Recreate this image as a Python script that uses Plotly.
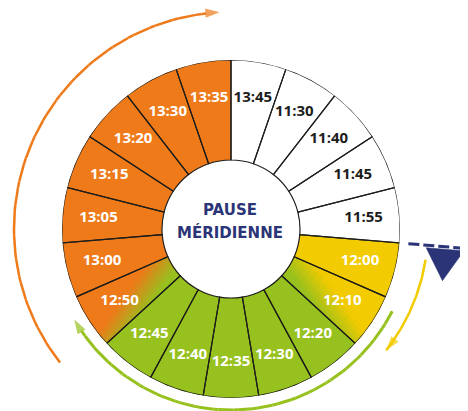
import numpy as np
import plotly.graph_objects as go

# créneaux de la pause méridienne, dans le sens horaire depuis midi (haut)
labels = ["13:45", "11:30", "11:40", "11:45", "11:55", "12:00", "12:10",
          "12:20", "12:30", "12:35", "12:40", "12:45", "12:50", "13:00",
          "13:05", "13:15", "13:20", "13:30", "13:35"]
zones = ["libre"] * 5 + ["jaune"] * 2 + ["vert"] * 5 + ["orange"] * 7
# fondus : créneau -> (zone voisine, coin intérieur où elle apparaît)
blends = {"12:10": ("vert", "end"), "12:50": ("vert", "start")}

colors = {"libre": "#FFFFFF", "jaune": "#F2CB00", "vert": "#97C11F", "orange": "#EE7A1A"}
navy = "#2B3476"

# la page a une marge de 8px, la figure commence donc à (8, 8)
W, H = 460, 403
cx, cy = 223, 221
r_in, r_out = 69, 169
n = len(labels)
step = 360 / n
theta = [i * step + step / 2 for i in range(n)]


def hex_rgb(h):
    return np.array([int(h[i:i + 2], 16) for i in (1, 3, 5)], float)


def xy(r, a):
    a = np.radians(a)
    return np.array([cx + r * np.sin(a), cy - r * np.cos(a)])


fig = go.Figure()

# segments pleins
fig.add_trace(go.Barpolar(
    r=[r_out - r_in] * n, base=[r_in] * n, theta=theta, width=[step] * n,
    marker=dict(color=[colors[z] for z in zones], line=dict(width=0)),
    hoverinfo="skip", showlegend=False))

# fondus de couleur, petites cellules
g_r, g_t, g_c = [], [], []
na, nr, bw = 12, 14, 26.0
for lab, (other, corner) in blends.items():
    i = labels.index(lab)
    a0, a1 = i * step, (i + 1) * step
    base_c = hex_rgb(colors[zones[i]])
    oth_c = hex_rgb(colors[other])
    if corner == "end":
        p1, p2, g = xy(r_in, a0), xy(r_out, a1), xy(r_in, a1)
    else:
        p1, p2, g = xy(r_in, a1), xy(r_out, a0), xy(r_in, a0)
    d = p2 - p1
    L = np.hypot(*d)
    sg = np.sign(d[0] * (g - p1)[1] - d[1] * (g - p1)[0])
    for ja in range(na):
        ta = a0 + (ja + 0.5) * step / na
        for jr in range(nr):
            rr = r_in + (jr + 0.5) * (r_out - r_in) / nr
            q = xy(rr, ta) - p1
            dist = sg * (d[0] * q[1] - d[1] * q[0]) / L
            t = np.clip(0.5 + dist / bw, 0, 1)
            c = base_c * (1 - t) + oth_c * t
            g_r.append(rr)
            g_t.append(ta)
            g_c.append("rgb(%d,%d,%d)" % tuple(c))
dr = (r_out - r_in) / nr
fig.add_trace(go.Barpolar(
    r=[dr + 0.6] * len(g_r), base=[x - dr / 2 - 0.3 for x in g_r],
    theta=g_t, width=[step / na + 0.3] * len(g_r),
    marker=dict(color=g_c, line=dict(width=0)),
    hoverinfo="skip", showlegend=False))

# contours
fig.add_trace(go.Barpolar(
    r=[r_out - r_in] * n, base=[r_in] * n, theta=theta, width=[step] * n,
    marker=dict(color="rgba(0,0,0,0)", line=dict(color="#1d1d1b", width=1.2)),
    hoverinfo="skip", showlegend=False))

# heures
fig.add_trace(go.Scatterpolar(
    r=[133] * n, theta=theta, mode="text", text=labels,
    textfont=dict(family="Open Sans", size=15, weight="bold",
                  color=["#1d1d1b" if z == "libre" else "white" for z in zones]),
    hoverinfo="skip", showlegend=False))

# flèches circulaires
arcs = [("orange", 217, 232, 357, 2.5), ("vert", 181, 117, 240, 3), ("jaune", 197, 99, 128, 2.5)]
for zone, r, a0, a1, lw in arcs:
    aa = np.linspace(a0, a1, 80)
    pts = np.array([xy(r, a) for a in aa])
    sizes = [8] + [0] * (len(aa) - 2) + [15]
    symbols = ["circle"] * (len(aa) - 1) + ["arrow"]
    fig.add_trace(go.Scatter(
        x=pts[:, 0], y=pts[:, 1], mode="lines+markers",
        line=dict(color=colors[zone], width=lw),
        marker=dict(size=sizes, symbol=symbols, color=colors[zone], angleref="previous",
                    line=dict(width=0)),
        hoverinfo="skip", showlegend=False))

# repère "maintenant" entre 11:55 et 12:00
a_now = 5 * step
p_a, p_b = xy(178, a_now), xy(232, a_now)
fig.add_trace(go.Scatter(
    x=[p_a[0], p_b[0]], y=[p_a[1], p_b[1]], mode="lines",
    line=dict(color=navy, width=3, dash="11px,4px"),
    hoverinfo="skip", showlegend=False))
nrm = np.array([np.cos(np.radians(a_now)), np.sin(np.radians(a_now))])
t1, t2 = xy(196, a_now) + 2.5 * nrm, xy(234, a_now) + 2.5 * nrm
apex = xy(215, a_now) + 34 * nrm
fig.add_trace(go.Scatter(
    x=[t1[0], t2[0], apex[0], t1[0]], y=[t1[1], t2[1], apex[1], t1[1]],
    mode="lines", fill="toself", fillcolor=navy, line=dict(color=navy, width=0.5),
    hoverinfo="skip", showlegend=False))

for txt, yy in [("PAUSE", 202), ("MÉRIDIENNE", 224)]:
    fig.add_annotation(x=cx - 1, y=yy, xref="x", yref="y", text="<b>%s</b>" % txt,
                       showarrow=False, font=dict(family="DejaVu Sans", size=15, color=navy))

fig.update_layout(
    width=W, height=H, margin=dict(l=0, r=0, t=0, b=0),
    paper_bgcolor="white", plot_bgcolor="rgba(0,0,0,0)",
    xaxis=dict(range=[0, W], visible=False, domain=[0, 1], fixedrange=True),
    yaxis=dict(range=[H, 0], visible=False, domain=[0, 1], fixedrange=True),
    polar=dict(
        domain=dict(x=[(cx - r_out) / W, (cx + r_out) / W],
                    y=[(H - cy - r_out) / H, (H - cy + r_out) / H]),
        bgcolor="white", barmode="overlay",
        radialaxis=dict(range=[0, r_out], visible=False),
        angularaxis=dict(rotation=90, direction="clockwise", visible=False)),
)

fig.write_html("out.html")
